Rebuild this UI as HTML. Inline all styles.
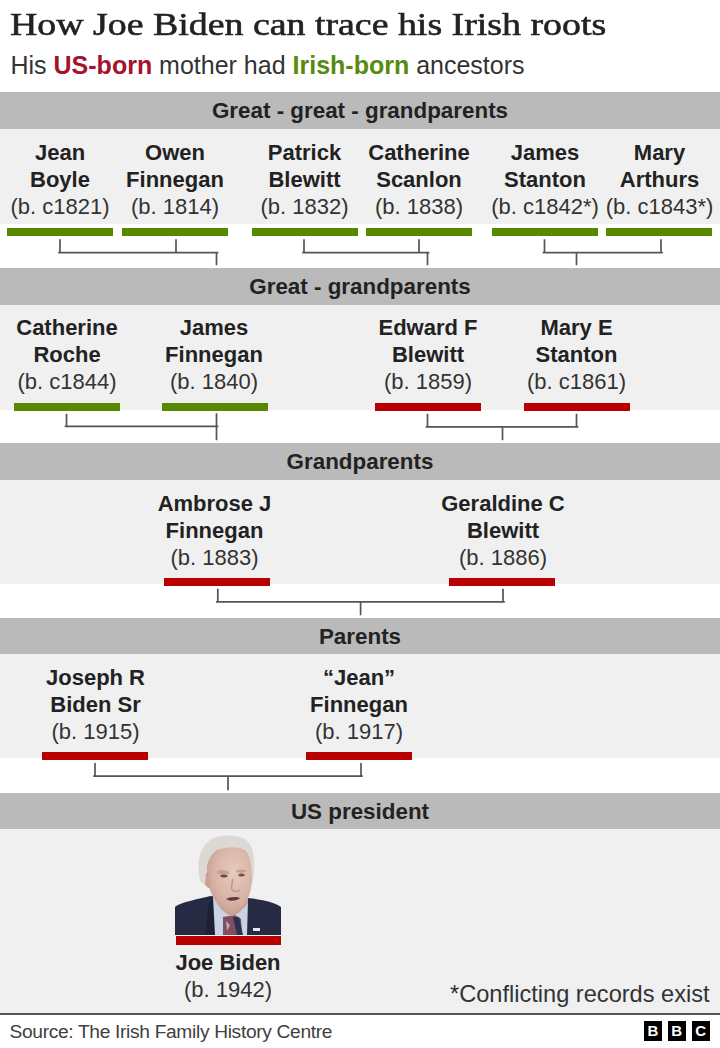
<!DOCTYPE html>
<html><head><meta charset="utf-8"><style>
html,body{margin:0;padding:0;background:#fff;}
body{width:720px;height:1048px;position:relative;overflow:hidden;}
</style></head><body>
<div style="position:absolute;left:10px;top:4.53px;line-height:39.0px;font-family:'Liberation Serif', serif;font-size:32.5px;font-weight:400;color:#222;white-space:nowrap;-webkit-text-stroke:0.6px #222;transform:scaleX(1.165);transform-origin:0 0;">How Joe Biden can trace his Irish roots</div>
<div style="position:absolute;left:10.5px;top:50.34px;line-height:30.0px;font-family:'Liberation Sans', sans-serif;font-size:25px;font-weight:400;color:#333;white-space:nowrap;">His <b style="color:#a4122c">US-born</b> mother had <b style="color:#588a10">Irish-born</b> ancestors</div>
<div style="position:absolute;left:0px;top:129px;width:720px;height:95px;background:#f0f0f0;"></div>
<div style="position:absolute;left:0px;top:92px;width:720px;height:37px;background:#bababa;"></div>
<div style="position:absolute;left:60px;width:600px;text-align:center;top:98.40px;line-height:26.88px;font-family:'Liberation Sans', sans-serif;font-size:22.4px;font-weight:700;color:#222;white-space:nowrap;">Great - great - grandparents</div>
<div style="position:absolute;left:0px;top:305px;width:720px;height:105px;background:#f0f0f0;"></div>
<div style="position:absolute;left:0px;top:268px;width:720px;height:37px;background:#bababa;"></div>
<div style="position:absolute;left:60px;width:600px;text-align:center;top:274.40px;line-height:26.88px;font-family:'Liberation Sans', sans-serif;font-size:22.4px;font-weight:700;color:#222;white-space:nowrap;">Great - grandparents</div>
<div style="position:absolute;left:0px;top:480px;width:720px;height:104px;background:#f0f0f0;"></div>
<div style="position:absolute;left:0px;top:443px;width:720px;height:37px;background:#bababa;"></div>
<div style="position:absolute;left:60px;width:600px;text-align:center;top:449.40px;line-height:26.88px;font-family:'Liberation Sans', sans-serif;font-size:22.4px;font-weight:700;color:#222;white-space:nowrap;">Grandparents</div>
<div style="position:absolute;left:0px;top:654px;width:720px;height:104px;background:#f0f0f0;"></div>
<div style="position:absolute;left:0px;top:618px;width:720px;height:36px;background:#bababa;"></div>
<div style="position:absolute;left:60px;width:600px;text-align:center;top:624.40px;line-height:26.88px;font-family:'Liberation Sans', sans-serif;font-size:22.4px;font-weight:700;color:#222;white-space:nowrap;">Parents</div>
<div style="position:absolute;left:0px;top:829px;width:720px;height:184px;background:#f0f0f0;"></div>
<div style="position:absolute;left:0px;top:793px;width:720px;height:36px;background:#bababa;"></div>
<div style="position:absolute;left:60px;width:600px;text-align:center;top:799.40px;line-height:26.88px;font-family:'Liberation Sans', sans-serif;font-size:22.4px;font-weight:700;color:#222;white-space:nowrap;">US president</div>
<div style="position:absolute;left:-240px;width:600px;text-align:center;top:140.18px;line-height:26.4px;font-family:'Liberation Sans', sans-serif;font-size:22px;font-weight:700;color:#222;white-space:nowrap;">Jean</div>
<div style="position:absolute;left:-240px;width:600px;text-align:center;top:167.08px;line-height:26.4px;font-family:'Liberation Sans', sans-serif;font-size:22px;font-weight:700;color:#222;white-space:nowrap;">Boyle</div>
<div style="position:absolute;left:-240px;width:600px;text-align:center;top:194.18px;line-height:26.4px;font-family:'Liberation Sans', sans-serif;font-size:22px;font-weight:400;color:#333;white-space:nowrap;">(b. c1821)</div>
<div style="position:absolute;left:7px;top:228px;width:106px;height:8px;background:#588700;"></div>
<div style="position:absolute;left:-125px;width:600px;text-align:center;top:140.18px;line-height:26.4px;font-family:'Liberation Sans', sans-serif;font-size:22px;font-weight:700;color:#222;white-space:nowrap;">Owen</div>
<div style="position:absolute;left:-125px;width:600px;text-align:center;top:167.08px;line-height:26.4px;font-family:'Liberation Sans', sans-serif;font-size:22px;font-weight:700;color:#222;white-space:nowrap;">Finnegan</div>
<div style="position:absolute;left:-125px;width:600px;text-align:center;top:194.18px;line-height:26.4px;font-family:'Liberation Sans', sans-serif;font-size:22px;font-weight:400;color:#333;white-space:nowrap;">(b. 1814)</div>
<div style="position:absolute;left:122px;top:228px;width:106px;height:8px;background:#588700;"></div>
<div style="position:absolute;left:4.5px;width:600px;text-align:center;top:140.18px;line-height:26.4px;font-family:'Liberation Sans', sans-serif;font-size:22px;font-weight:700;color:#222;white-space:nowrap;">Patrick</div>
<div style="position:absolute;left:4.5px;width:600px;text-align:center;top:167.08px;line-height:26.4px;font-family:'Liberation Sans', sans-serif;font-size:22px;font-weight:700;color:#222;white-space:nowrap;">Blewitt</div>
<div style="position:absolute;left:4.5px;width:600px;text-align:center;top:194.18px;line-height:26.4px;font-family:'Liberation Sans', sans-serif;font-size:22px;font-weight:400;color:#333;white-space:nowrap;">(b. 1832)</div>
<div style="position:absolute;left:252px;top:228px;width:106px;height:8px;background:#588700;"></div>
<div style="position:absolute;left:119px;width:600px;text-align:center;top:140.18px;line-height:26.4px;font-family:'Liberation Sans', sans-serif;font-size:22px;font-weight:700;color:#222;white-space:nowrap;">Catherine</div>
<div style="position:absolute;left:119px;width:600px;text-align:center;top:167.08px;line-height:26.4px;font-family:'Liberation Sans', sans-serif;font-size:22px;font-weight:700;color:#222;white-space:nowrap;">Scanlon</div>
<div style="position:absolute;left:119px;width:600px;text-align:center;top:194.18px;line-height:26.4px;font-family:'Liberation Sans', sans-serif;font-size:22px;font-weight:400;color:#333;white-space:nowrap;">(b. 1838)</div>
<div style="position:absolute;left:366px;top:228px;width:106px;height:8px;background:#588700;"></div>
<div style="position:absolute;left:245px;width:600px;text-align:center;top:140.18px;line-height:26.4px;font-family:'Liberation Sans', sans-serif;font-size:22px;font-weight:700;color:#222;white-space:nowrap;">James</div>
<div style="position:absolute;left:245px;width:600px;text-align:center;top:167.08px;line-height:26.4px;font-family:'Liberation Sans', sans-serif;font-size:22px;font-weight:700;color:#222;white-space:nowrap;">Stanton</div>
<div style="position:absolute;left:245px;width:600px;text-align:center;top:194.18px;line-height:26.4px;font-family:'Liberation Sans', sans-serif;font-size:22px;font-weight:400;color:#333;white-space:nowrap;">(b. c1842*)</div>
<div style="position:absolute;left:492px;top:228px;width:106px;height:8px;background:#588700;"></div>
<div style="position:absolute;left:359.5px;width:600px;text-align:center;top:140.18px;line-height:26.4px;font-family:'Liberation Sans', sans-serif;font-size:22px;font-weight:700;color:#222;white-space:nowrap;">Mary</div>
<div style="position:absolute;left:359.5px;width:600px;text-align:center;top:167.08px;line-height:26.4px;font-family:'Liberation Sans', sans-serif;font-size:22px;font-weight:700;color:#222;white-space:nowrap;">Arthurs</div>
<div style="position:absolute;left:359.5px;width:600px;text-align:center;top:194.18px;line-height:26.4px;font-family:'Liberation Sans', sans-serif;font-size:22px;font-weight:400;color:#333;white-space:nowrap;">(b. c1843*)</div>
<div style="position:absolute;left:606px;top:228px;width:106px;height:8px;background:#588700;"></div>
<div style="position:absolute;left:-233px;width:600px;text-align:center;top:314.88px;line-height:26.4px;font-family:'Liberation Sans', sans-serif;font-size:22px;font-weight:700;color:#222;white-space:nowrap;">Catherine</div>
<div style="position:absolute;left:-233px;width:600px;text-align:center;top:341.68px;line-height:26.4px;font-family:'Liberation Sans', sans-serif;font-size:22px;font-weight:700;color:#222;white-space:nowrap;">Roche</div>
<div style="position:absolute;left:-233px;width:600px;text-align:center;top:368.88px;line-height:26.4px;font-family:'Liberation Sans', sans-serif;font-size:22px;font-weight:400;color:#333;white-space:nowrap;">(b. c1844)</div>
<div style="position:absolute;left:14px;top:403px;width:106px;height:8px;background:#588700;"></div>
<div style="position:absolute;left:-86.0px;width:600px;text-align:center;top:314.88px;line-height:26.4px;font-family:'Liberation Sans', sans-serif;font-size:22px;font-weight:700;color:#222;white-space:nowrap;">James</div>
<div style="position:absolute;left:-86.0px;width:600px;text-align:center;top:341.68px;line-height:26.4px;font-family:'Liberation Sans', sans-serif;font-size:22px;font-weight:700;color:#222;white-space:nowrap;">Finnegan</div>
<div style="position:absolute;left:-86.0px;width:600px;text-align:center;top:368.88px;line-height:26.4px;font-family:'Liberation Sans', sans-serif;font-size:22px;font-weight:400;color:#333;white-space:nowrap;">(b. 1840)</div>
<div style="position:absolute;left:162px;top:403px;width:106px;height:8px;background:#588700;"></div>
<div style="position:absolute;left:128px;width:600px;text-align:center;top:314.88px;line-height:26.4px;font-family:'Liberation Sans', sans-serif;font-size:22px;font-weight:700;color:#222;white-space:nowrap;">Edward F</div>
<div style="position:absolute;left:128px;width:600px;text-align:center;top:341.68px;line-height:26.4px;font-family:'Liberation Sans', sans-serif;font-size:22px;font-weight:700;color:#222;white-space:nowrap;">Blewitt</div>
<div style="position:absolute;left:128px;width:600px;text-align:center;top:368.88px;line-height:26.4px;font-family:'Liberation Sans', sans-serif;font-size:22px;font-weight:400;color:#333;white-space:nowrap;">(b. 1859)</div>
<div style="position:absolute;left:375px;top:403px;width:106px;height:8px;background:#b80000;"></div>
<div style="position:absolute;left:276.5px;width:600px;text-align:center;top:314.88px;line-height:26.4px;font-family:'Liberation Sans', sans-serif;font-size:22px;font-weight:700;color:#222;white-space:nowrap;">Mary E</div>
<div style="position:absolute;left:276.5px;width:600px;text-align:center;top:341.68px;line-height:26.4px;font-family:'Liberation Sans', sans-serif;font-size:22px;font-weight:700;color:#222;white-space:nowrap;">Stanton</div>
<div style="position:absolute;left:276.5px;width:600px;text-align:center;top:368.88px;line-height:26.4px;font-family:'Liberation Sans', sans-serif;font-size:22px;font-weight:400;color:#333;white-space:nowrap;">(b. c1861)</div>
<div style="position:absolute;left:524px;top:403px;width:106px;height:8px;background:#b80000;"></div>
<div style="position:absolute;left:-85.5px;width:600px;text-align:center;top:491.08px;line-height:26.4px;font-family:'Liberation Sans', sans-serif;font-size:22px;font-weight:700;color:#222;white-space:nowrap;">Ambrose J</div>
<div style="position:absolute;left:-85.5px;width:600px;text-align:center;top:518.28px;line-height:26.4px;font-family:'Liberation Sans', sans-serif;font-size:22px;font-weight:700;color:#222;white-space:nowrap;">Finnegan</div>
<div style="position:absolute;left:-85.5px;width:600px;text-align:center;top:545.48px;line-height:26.4px;font-family:'Liberation Sans', sans-serif;font-size:22px;font-weight:400;color:#333;white-space:nowrap;">(b. 1883)</div>
<div style="position:absolute;left:164px;top:578px;width:106px;height:8px;background:#b80000;"></div>
<div style="position:absolute;left:203px;width:600px;text-align:center;top:491.08px;line-height:26.4px;font-family:'Liberation Sans', sans-serif;font-size:22px;font-weight:700;color:#222;white-space:nowrap;">Geraldine C</div>
<div style="position:absolute;left:203px;width:600px;text-align:center;top:518.28px;line-height:26.4px;font-family:'Liberation Sans', sans-serif;font-size:22px;font-weight:700;color:#222;white-space:nowrap;">Blewitt</div>
<div style="position:absolute;left:203px;width:600px;text-align:center;top:545.48px;line-height:26.4px;font-family:'Liberation Sans', sans-serif;font-size:22px;font-weight:400;color:#333;white-space:nowrap;">(b. 1886)</div>
<div style="position:absolute;left:449px;top:578px;width:106px;height:8px;background:#b80000;"></div>
<div style="position:absolute;left:-204.5px;width:600px;text-align:center;top:665.28px;line-height:26.4px;font-family:'Liberation Sans', sans-serif;font-size:22px;font-weight:700;color:#222;white-space:nowrap;">Joseph R</div>
<div style="position:absolute;left:-204.5px;width:600px;text-align:center;top:692.08px;line-height:26.4px;font-family:'Liberation Sans', sans-serif;font-size:22px;font-weight:700;color:#222;white-space:nowrap;">Biden Sr</div>
<div style="position:absolute;left:-204.5px;width:600px;text-align:center;top:718.88px;line-height:26.4px;font-family:'Liberation Sans', sans-serif;font-size:22px;font-weight:400;color:#333;white-space:nowrap;">(b. 1915)</div>
<div style="position:absolute;left:42px;top:752px;width:106px;height:8px;background:#b80000;"></div>
<div style="position:absolute;left:59px;width:600px;text-align:center;top:665.28px;line-height:26.4px;font-family:'Liberation Sans', sans-serif;font-size:22px;font-weight:700;color:#222;white-space:nowrap;">&ldquo;Jean&rdquo;</div>
<div style="position:absolute;left:59px;width:600px;text-align:center;top:692.08px;line-height:26.4px;font-family:'Liberation Sans', sans-serif;font-size:22px;font-weight:700;color:#222;white-space:nowrap;">Finnegan</div>
<div style="position:absolute;left:59px;width:600px;text-align:center;top:718.88px;line-height:26.4px;font-family:'Liberation Sans', sans-serif;font-size:22px;font-weight:400;color:#333;white-space:nowrap;">(b. 1917)</div>
<div style="position:absolute;left:306px;top:752px;width:106px;height:8px;background:#b80000;"></div>
<svg style="position:absolute;left:0;top:0" width="720" height="1048"><path d="M60 240V252.7M176 240V252.7M59 252.7H217.5M216.5 252.7V264.5M304 240V252.7M419 240V252.7M303 252.7H428.5M427.5 252.7V264.5M544.5 240V252.7M661 240V252.7M543.5 252.7H662M576.5 252.7V264.5M66.5 414.7V426.3M216.5 414.7V426.3M65.5 426.3H217.5M216.5 426.3V439.5M216.5 414V426M427.5 414.7V426.8M576.5 414.7V426.8M426.5 426.8H577.5M502.5 426.8V439.5M217.8 589.5V601.9M503 589.5V601.9M216.8 601.9H504M360.6 601.9V614.5M95 763.9V776.1M361 763.9V776.1M94 776.1H362M228 776.1V789.5" fill="none" stroke="#555555" stroke-width="1.7" stroke-linecap="square"/></svg>
<svg style="position:absolute;left:175px;top:833px" width="106" height="102" viewBox="0 0 106 102">
<defs>
<filter id="bl" x="-10%" y="-10%" width="120%" height="120%"><feGaussianBlur stdDeviation="0.7"/></filter>
<radialGradient id="fc" cx="0.58" cy="0.4" r="0.6"><stop offset="0" stop-color="#e6cbbe"/><stop offset="0.7" stop-color="#d8b4a6"/><stop offset="1" stop-color="#c8a092"/></radialGradient>
</defs>
<g filter="url(#bl)">
<path d="M0 74 C4 70 22 66 36 63 L42 64 L58 74 L72 65 C84 66 100 69 106 74 L106 102 L0 102 Z" fill="#252c42"/>
<path d="M34 70 L40 64 L42 64 L46 90 L42 102 L30 102 Z" fill="#1a2034"/>
<path d="M38 64 L44 65 L56 80 L64 79 L73 67 L72 102 L40 102 Z" fill="#c8d3e6"/>
<path d="M48 84 L60 82 L66 86 L67 102 L48 102 Z" fill="#80505f"/>
<path d="M58 84 L64 84 L68 102 L62 102 Z" fill="#2c3050"/>
<path d="M51 88 L55 92 L52 98 Z" fill="#c8a4b4"/>
<path d="M40 58 C44 68 50 75 58 77 C66 75 70 68 73 60 L73 70 C66 79 60 83 56 83 C50 81 44 75 40 66 Z" fill="#c9a090"/>
<path d="M32 26 C33 16 44 12 54 12 C66 12 75 16 77 26 C79 36 78 46 76 55 C74 65 70 73 62 79 C58 82 53 82 49 78 C43 73 38 65 35 57 C32 49 31 36 32 26 Z" fill="url(#fc)"/>
<path d="M27 40 C30 37 33 40 34 44 L35 55 C30 55 28 48 27 40 Z" fill="#cc9e8e"/>
<path d="M25 48 C22 32 23 14 37 6 C47 1 62 2 70 6 C78 12 80 24 79 40 L77 48 C77 32 75 22 70 17 C62 13 50 14 42 17 C35 21 32 30 31 40 L30 52 Z" fill="#dcd8d4"/>
<path d="M42 38 C46 36 52 37 55 40 C51 42 46 42 42 40 Z" fill="#c4a090"/>
<path d="M61 38 C64 36 69 36 72 38 C69 40 65 40 61 39 Z" fill="#c4a090"/>
<path d="M45 43 C47 41 51 41 53 43 C51 45 47 45 45 43 Z" fill="#6e4e48"/>
<path d="M63 42 C65 40 68 40 70 42 C68 44 65 44 63 42 Z" fill="#6e4e48"/>
<path d="M58 46 C57 50 56 54 57 57 C59 59 63 59 65 57" fill="none" stroke="#c09484" stroke-width="1.4"/>
<path d="M51 66 C54 64 61 63 65 65 C62 68 55 69 51 66 Z" fill="#5e3a3a"/>
<rect x="78" y="95" width="7" height="3" fill="#e6e8f0"/>
</g>
</svg>
<div style="position:absolute;left:175.5px;top:935.5px;width:105.5px;height:9px;background:#b80000;"></div>
<div style="position:absolute;left:-72px;width:600px;text-align:center;top:949.58px;line-height:26.4px;font-family:'Liberation Sans', sans-serif;font-size:22px;font-weight:700;color:#222;white-space:nowrap;">Joe Biden</div>
<div style="position:absolute;left:-72px;width:600px;text-align:center;top:977.28px;line-height:26.4px;font-family:'Liberation Sans', sans-serif;font-size:22px;font-weight:400;color:#333;white-space:nowrap;">(b. 1942)</div>
<div style="position:absolute;right:10.399999999999977px;text-align:right;top:980.16px;line-height:28.32px;font-family:'Liberation Sans', sans-serif;font-size:23.6px;font-weight:400;color:#333;white-space:nowrap;">*Conflicting records exist</div>
<div style="position:absolute;left:0px;top:1013px;width:720px;height:2px;background:#555;"></div>
<div style="position:absolute;left:9.5px;top:1020.43px;line-height:23.04px;font-family:'Liberation Sans', sans-serif;font-size:19.2px;font-weight:400;color:#404040;white-space:nowrap;letter-spacing:-0.33px;">Source: The Irish Family History Centre</div>
<div style="position:absolute;left:643.75px;top:1021px;width:18.5px;height:19.5px;background:#000;"></div>
<div style="position:absolute;left:353.0px;width:600px;text-align:center;top:1022.30px;line-height:18.0px;font-family:'Liberation Sans', sans-serif;font-size:15px;font-weight:700;color:#fff;white-space:nowrap;">B</div>
<div style="position:absolute;left:667.5px;top:1021px;width:18.5px;height:19.5px;background:#000;"></div>
<div style="position:absolute;left:376.75px;width:600px;text-align:center;top:1022.30px;line-height:18.0px;font-family:'Liberation Sans', sans-serif;font-size:15px;font-weight:700;color:#fff;white-space:nowrap;">B</div>
<div style="position:absolute;left:691.5px;top:1021px;width:18.5px;height:19.5px;background:#000;"></div>
<div style="position:absolute;left:400.75px;width:600px;text-align:center;top:1022.30px;line-height:18.0px;font-family:'Liberation Sans', sans-serif;font-size:15px;font-weight:700;color:#fff;white-space:nowrap;">C</div>
</body></html>
